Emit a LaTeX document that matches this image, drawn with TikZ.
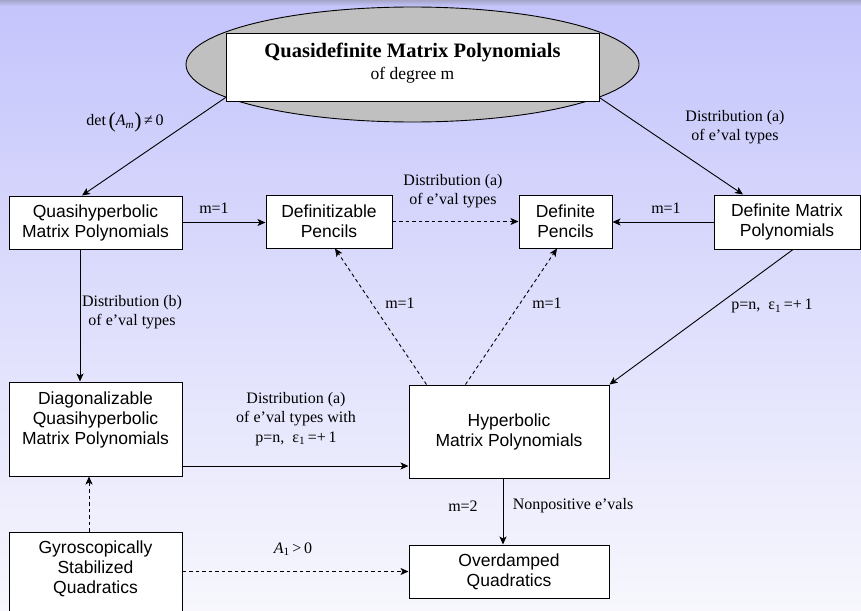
\documentclass[tikz,border=0pt]{standalone}
\usepackage{graphicx}
\usepackage{fontspec}
\setmainfont{Liberation Serif}
\newfontfamily\arialf{Liberation Sans}
\usetikzlibrary{shapes.geometric,arrows.meta,calc}
\definecolor{bgtop}{RGB}{196,196,252}
\definecolor{bgbot}{RGB}{247,247,253}
\definecolor{bandtop}{RGB}{165,165,200}
\definecolor{ellgray}{RGB}{192,192,192}
\begin{document}
\begin{tikzpicture}[x=1pt,y=-1pt,
  box/.style={draw=black, line width=1pt, fill=white, inner sep=0pt, align=center,
              font=\arialf\fontsize{17.5}{20}\selectfont},
  boxtext/.style={inner sep=0pt, align=center, font=\arialf\fontsize{17.5}{20}\selectfont},
  lbl/.style={inner sep=0pt, align=center, font=\fontsize{16}{19.5}\selectfont},
  arr/.style={line width=0.9pt, -{Stealth[length=8pt,width=7pt,inset=2pt]}},
  darr/.style={arr, dash pattern=on 3.5pt off 3pt},
]
\useasboundingbox (0,0) rectangle (861,610);
\clip (0,0) rectangle (861,610);
% background
\shade[top color=bgtop, bottom color=bgbot] (0,0) rectangle (861,610);
\shade[top color=bandtop, bottom color=bgtop] (0,0) rectangle (861,6);

% top ellipse and title box
\node[ellipse, draw=black, line width=0.9pt, fill=ellgray, inner sep=0pt,
      minimum width=453pt, minimum height=115pt] (ell) at (412.5,64.5) {};
\node[draw=black, line width=1pt, fill=white, inner sep=0pt,
      minimum width=373pt, minimum height=67pt] (tbox) at (412.5,67.5) {};
\node[anchor=base, inner sep=0pt, font=\bfseries\fontsize{20.5}{24}\selectfont] (ttl) at (412.5,58) {Quasidefinite Matrix Polynomials};
\node[anchor=base, inner sep=0pt, font=\fontsize{17.5}{20}\selectfont] (deg) at (412.5,79) {of degree m};

% row 2
\node[box, minimum width=173pt, minimum height=53pt] (qh) at (95.5,222.5) {Quasihyperbolic\\Matrix Polynomials};
\node[box, minimum width=126pt, minimum height=53pt] (dz) at (329,221.5) {Definitizable\\Pencils};
\node[box, minimum width=93pt, minimum height=53pt] (dp) at (565.5,221.5) {Definite\\Pencils};
\node[box, minimum width=146pt, minimum height=54pt] (dm) at (787,222) {Definite Matrix\\Polynomials};

% row 3
\node[box, minimum width=173pt, minimum height=94pt] (diag) at (95.5,429) {};
\node[boxtext] (diagt) at (95.5,419.5) {Diagonalizable\\Quasihyperbolic\\Matrix Polynomials};
\node[box, minimum width=200pt, minimum height=93pt] (hy) at (509,431.5) {Hyperbolic\\Matrix Polynomials};

% row 4
\node[box, minimum width=173pt, minimum height=90pt] (gy) at (95.5,577) {};
\node[boxtext] (gyt) at (95.5,568.5) {Gyroscopically\\Stabilized\\Quadratics};
\node[box, minimum width=200pt, minimum height=53pt] (od) at (509,571.5) {Overdamped\\Quadratics};

% connectors
\draw[arr] (ell.190) -- ($(qh.north)+(-13.5,0)$);
\draw[arr] (ell.-10) -- ($(dm.north)+(-44,0)$);
\draw[arr] (qh.east) -- (qh.east -| dz.west);
\draw[darr] (dz.east) -- (dz.east -| dp.west);
\draw[arr] (dm.west) -- (dm.west -| dp.east);
\draw[arr] ($(qh.south)+(-15.5,0)$) -- ($(diag.north)+(-15.5,0)$);
\draw[arr] ($(dm.south)+(6,0)$) -- (hy.north east);
\draw[darr] ($(hy.north west)+(18,0)$) -- ($(dz.south)+(6,0)$);
\draw[darr] ($(hy.north west)+(57,0)$) -- ($(dp.south)+(-8.5,0)$);
\draw[arr] ($(diag.east)+(0,37)$) -- ($(hy.west)+(0,34.5)$);
\draw[arr] ($(hy.south)+(-6,0)$) -- ($(od.north)+(-6,0)$);
\draw[darr] ($(gy.north)+(-6.5,0)$) -- ($(diag.south)+(-6.5,0)$);
\draw[darr] (gy.east |- od.west) -- (od.west);

% labels
\node[lbl] (ldet) at (125,122) {det\,\raisebox{-1.5pt}{\scalebox{1.35}{(}}\textit{A}\textsubscript{\textit{m}}\raisebox{-1.5pt}{\scalebox{1.35}{)}}\,≠\,0};
\node[lbl] (ldistr) at (735,127) {Distribution (a)\\of e’val types};
\node[lbl] (lm1a) at (214,208) {m=1};
\node[lbl] (ldistm) at (453,191) {Distribution (a)\\of e’val types};
\node[lbl] (lm1b) at (666,208) {m=1};
\node[lbl] (ldistb) at (132,312) {Distribution (b)\\of e’val types};
\node[lbl] (lm1c) at (400,303) {m=1};
\node[lbl] (lm1d) at (547,303) {m=1};
\node[lbl] (lpn) at (772,306) {p=n,\ \ ε\textsubscript{1}\,=+\,1};
\node[lbl] (ldistw) at (296,419) {Distribution (a)\\of e’val types with\\p=n,\ \ ε\textsubscript{1}\,=+\,1};
\node[lbl] (lm2) at (463,506) {m=2};
\node[lbl] (lnp) at (573,506) {Nonpositive e’vals};
\node[lbl] (la1) at (293,549) {\textit{A}\textsubscript{1}\,>\,0};
\end{tikzpicture}
\end{document}
